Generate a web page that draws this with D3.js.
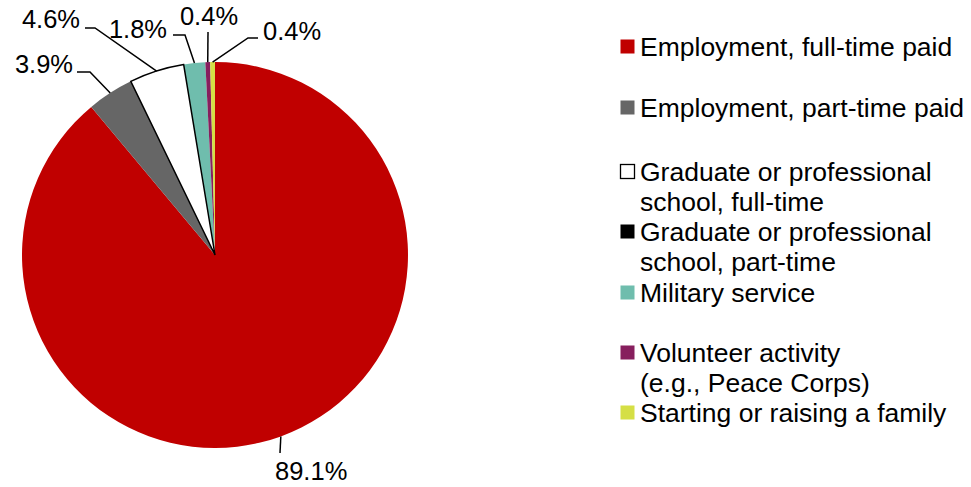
<!DOCTYPE html>
<html>
<head>
<meta charset="utf-8">
<script src="https://cdn.jsdelivr.net/npm/d3@7"></script>
<style>
  body { margin: 0; background: #fff; }
  text { font-family: "Liberation Sans", Arial, sans-serif; fill: #000; }
</style>
</head>
<body>
<script>
var width = 971
var height = 487

// data
var categories = [
  'Employment, full-time paid',
  'Employment, part-time paid',
  'Graduate or professional school, full-time',
  'Graduate or professional school, part-time',
  'Military service',
  'Volunteer activity (e.g., Peace Corps)',
  'Starting or raising a family'
]
var values = [89.1, 3.9, 4.6, 0.0, 1.8, 0.4, 0.4]
var valueLabels = ['89.1%', '3.9%', '4.6%', '', '1.8%', '0.4%', '0.4%']
var legendLines = [
  ['Employment, full-time paid'],
  ['Employment, part-time paid'],
  ['Graduate or professional', 'school, full-time'],
  ['Graduate or professional', 'school, part-time'],
  ['Military service'],
  ['Volunteer activity', '(e.g., Peace Corps)'],
  ['Starting or raising a family']
]

var colors = ['#C00000', '#666666', '#FFFFFF', '#000000', '#6FBDAD', '#871F5E', '#D5DF45']

// layout
var cx = 215, cy = 255, radius = 193
// elbow point of each leader, text anchor point, anchor type
var labelLayout = [
  { elbow: null, end: [280, 453], text: [275, 480], anchor: 'start' },
  { elbow: [90, 72], end: [77, 72], text: [73, 73], anchor: 'end' },
  { elbow: [95, 28], end: [85, 28], text: [80, 28], anchor: 'end' },
  null,
  { elbow: [185, 35], end: [173, 35], text: [167, 38], anchor: 'end' },
  { elbow: null, end: [208, 32], text: [209, 25], anchor: 'middle' },
  { elbow: [248, 38], end: [258, 38], text: [263, 40], anchor: 'start' }
]
var legendX = 620
var legendBaselines = [56, 117, 181, 241, 302, 362, 422]
var legendLineGap = 30

var svg = d3.select('body').append('svg')
  .attr('width', width)
  .attr('height', height)

var pie = d3.pie().sort(null).value(d => d)
var arcs = pie(values)

var arc = d3.arc().innerRadius(0).outerRadius(radius)

var g = svg.append('g').attr('transform', 'translate(' + [cx, cy] + ')')

g.selectAll('path.slice')
  .data(arcs)
  .enter().append('path')
  .attr('class', 'slice')
  .attr('d', arc)
  .attr('fill', (d, i) => colors[i])

// outline for the white slice, drawn on top
g.append('path')
  .attr('d', arc(arcs[2]))
  .attr('fill', 'none')
  .attr('stroke', '#000')
  .attr('stroke-width', 1.5)
  .attr('stroke-linejoin', 'miter')

// leader lines + labels
arcs.forEach((d, i) => {
  var lay = labelLayout[i]
  if (!lay) return
  var a = (d.startAngle + d.endAngle) / 2
  var start = [cx + radius * Math.sin(a), cy - radius * Math.cos(a)]
  var pts = [start]
  if (lay.elbow) pts.push(lay.elbow)
  pts.push(lay.end)
  svg.append('path')
    .attr('d', d3.line()(pts))
    .attr('fill', 'none')
    .attr('stroke', '#000')
    .attr('stroke-width', 1.5)
  svg.append('text')
    .attr('x', lay.text[0])
    .attr('y', lay.text[1])
    .attr('text-anchor', lay.anchor)
    .style('font-size', '25.5px')
    .text(valueLabels[i])
})

// legend
var legend = svg.append('g')
legendLines.forEach((lines, i) => {
  var base = legendBaselines[i]
  legend.append('rect')
    .attr('x', legendX + 0.5)
    .attr('y', base - 16.5)
    .attr('width', 14)
    .attr('height', 14)
    .attr('fill', colors[i])
    .attr('stroke', colors[i] === '#FFFFFF' ? '#000' : 'none')
    .attr('stroke-width', 1.3)
  lines.forEach((ln, j) => {
    legend.append('text')
      .attr('x', legendX + 20)
      .attr('y', base + j * legendLineGap)
      .style('font-size', '26.5px')
      .text(ln)
  })
})
</script>
</body>
</html>
